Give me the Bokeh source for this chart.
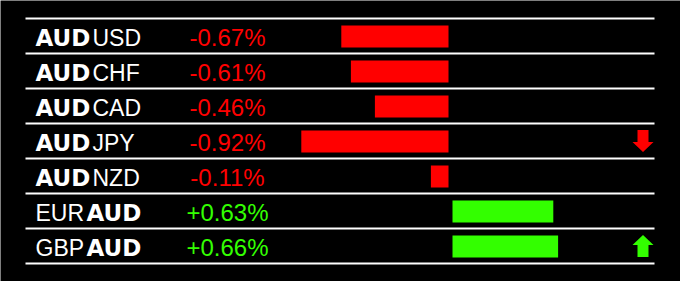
from bokeh.plotting import figure
from bokeh.models import Range1d
from bokeh.core.properties import value
from bokeh.embed import file_html
from bokeh.resources import INLINE

# ---- data ----
pairs = ["AUDUSD", "AUDCHF", "AUDCAD", "AUDJPY", "AUDNZD", "EURAUD", "GBPAUD"]
changes = [-0.67, -0.61, -0.46, -0.92, -0.11, 0.63, 0.66]
signals = [0, 0, 0, -1, 0, 0, 1]  # -1 down arrow, +1 up arrow

# ---- style / layout ----
W, H = 680, 281
RED = "#ff0000"
GREEN = "#33ff00"
PX_PER_PCT = 160.0
ZERO_PX = 448.0
GAP = 4 / PX_PER_PCT
ROW_H = 35.0
ROW0 = 36.0

n = len(pairs)
rows = list(range(n))

p = figure(width=W, height=H, output_backend="svg", toolbar_location=None,
           x_axis_location=None, y_axis_location=None,
           min_border=0, min_border_left=0, min_border_right=0,
           min_border_top=0, min_border_bottom=0,
           background_fill_color="black", border_fill_color="black",
           outline_line_color=None)
p.x_range = Range1d(-ZERO_PX / PX_PER_PCT, (W - ZERO_PX) / PX_PER_PCT)
p.y_range = Range1d((H - ROW0) / ROW_H, -ROW0 / ROW_H)
p.extra_x_ranges = {"px": Range1d(0, W)}
p.xgrid.visible = False
p.ygrid.visible = False

# separator lines
sep_y = [i - 18 / ROW_H for i in range(n + 1)]
p.segment(x0=[25] * (n + 1), x1=[654] * (n + 1), y0=sep_y, y1=sep_y,
          x_range_name="px", line_color="white", line_width=2)

# bars
left = [v if v < 0 else GAP for v in changes]
right = [0 if v < 0 else v + GAP for v in changes]
colors = [RED if v < 0 else GREEN for v in changes]
p.hbar(y=rows, left=left, right=right, height=22 / ROW_H, fill_color=colors,
       line_color=None)

# labels
mid_y = [i + 1 / ROW_H for i in rows]
bold_x, bold_t, reg_x, reg_t = [], [], [], []
for name in pairs:
    if name.startswith("AUD"):
        bold_x.append(35); bold_t.append("AUD")
        reg_x.append(92); reg_t.append(name[3:])
    else:
        reg_x.append(35); reg_t.append(name[:3])
        bold_x.append(86); bold_t.append("AUD")
p.text(x=bold_x, y=mid_y, text=bold_t, x_range_name="px",
       text_font=value("DejaVu Sans"), text_font_style="bold",
       text_font_size="23px", text_color="white", text_baseline="middle")
p.text(x=reg_x, y=mid_y, text=reg_t, x_range_name="px",
       text_font=value("Liberation Sans"),
       text_font_size="23px", text_color="white", text_baseline="middle")

pct = [f"{v:+.2f}%" for v in changes]
p.text(x=[227] * n, y=mid_y, text=pct, x_range_name="px",
       text_font=value("Liberation Sans"), text_font_size="24px",
       text_color=colors, text_align="center", text_baseline="middle")

# arrows
shape = [(-5.5, -11), (5.5, -11), (5.5, 1), (10.5, 1), (0, 11), (-10.5, 1), (-5.5, 1)]
axs, ays, acol = [], [], []
for i, s in enumerate(signals):
    if s == 0:
        continue
    d = 1 if s < 0 else -1
    axs.append([642.5 + dx for dx, dy in shape])
    ays.append([i + (d * dy - 0.5) / ROW_H for dx, dy in shape])
    acol.append(RED if s < 0 else GREEN)
p.patches(xs=axs, ys=ays, x_range_name="px", fill_color=acol, line_color=None)

open("out.html", "w").write(file_html(p, INLINE))
